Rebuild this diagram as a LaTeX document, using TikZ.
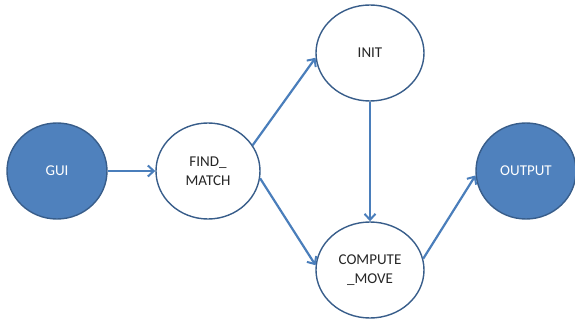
\documentclass[tikz,border=0pt]{standalone}
\usepackage{fontspec}
\setmainfont{Carlito}
\usetikzlibrary{arrows.meta,shapes.geometric}
\definecolor{stateblue}{HTML}{4F81BD}
\definecolor{stateedge}{HTML}{385D8A}
\definecolor{flowblue}{HTML}{4A7EBB}
\tikzset{
  ioState/.style={ellipse, draw=stateedge, fill=stateblue, line width=1.4pt,
    minimum width=100pt, minimum height=96pt, inner sep=0pt, text=white,
    font=\fontsize{15}{18}\selectfont, align=center},
  procState/.style={ellipse, draw=stateedge, fill=white, line width=1.4pt,
    minimum width=104pt, minimum height=96pt, inner sep=0pt, text=black!85,
    font=\fontsize{15}{19}\selectfont, align=center},
  flow/.style={draw=flowblue, line width=2.2pt, -{Straight Barb[length=6pt,width=11pt,line width=2pt]}}
}
\begin{document}
\begin{tikzpicture}[x=1pt,y=-1pt]
  \useasboundingbox (0,0) rectangle (575,320);
  \node[ioState] (gui) at (57,171) {GUI};
  \node[procState] (find) at (208,171) {FIND\_\\MATCH};
  \node[procState, minimum width=108pt] (init) at (370,53) {INIT};
  \node[procState, minimum width=108pt] (compute) at (370,270) {COMPUTE\\\_MOVE};
  \node[ioState] (out) at (526,171) {OUTPUT};
  \draw[flow] (gui) -- (find);
  \draw[flow] (find.30) -- (init.185);
  \draw[flow] (find.-8) -- (compute.175);
  \draw[flow] (init) -- (compute);
  \draw[flow] (compute.12) -- (out.185);
\end{tikzpicture}
\end{document}
